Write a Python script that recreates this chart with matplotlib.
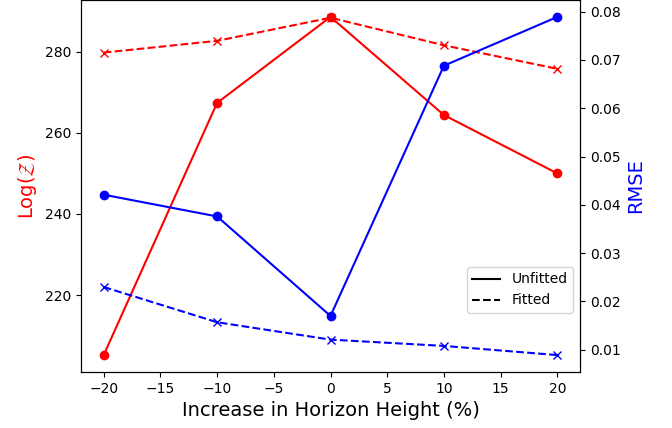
import matplotlib.pyplot as plt
from matplotlib.lines import Line2D

# horizon height change (%)
heights = [-20, -10, 0, 10, 20]

# log evidence
logz_unfitted = [205.2, 267.4, 288.6, 264.4, 250.0]
logz_fitted = [279.8, 282.7, 288.4, 281.6, 275.8]

# rmse
rmse_unfitted = [0.0421, 0.0376, 0.0170, 0.0688, 0.0789]
rmse_fitted = [0.0230, 0.0157, 0.0121, 0.0108, 0.0089]

fig = plt.figure(figsize=(6.72, 4.28), dpi=100)
ax = fig.add_axes([81/672, 1 - 372/428, 499/672, 372/428])
ax2 = ax.twinx()

ax.plot(heights, logz_unfitted, color='red', marker='o', linestyle='-')
ax.plot(heights, logz_fitted, color='red', marker='x', linestyle='--')
ax2.plot(heights, rmse_unfitted, color='blue', marker='o', linestyle='-')
ax2.plot(heights, rmse_fitted, color='blue', marker='x', linestyle='--')

ax.set_xlabel('Increase in Horizon Height (%)', fontsize=14)
ax.set_ylabel(r'Log($\mathcal{Z}$)', color='red', fontsize=14)
ax2.set_ylabel('RMSE', color='blue', fontsize=14)
ax.set_xticks([-20, -15, -10, -5, 0, 5, 10, 15, 20])
ax.set_yticks([220, 240, 260, 280])

handles = [Line2D([], [], color='black', linestyle='-'),
           Line2D([], [], color='black', linestyle='--')]
ax2.legend(handles, ['Unfitted', 'Fitted'], loc='lower right',
           bbox_to_anchor=(1.0, 0.14))

fig.savefig('out.png', dpi=100)
